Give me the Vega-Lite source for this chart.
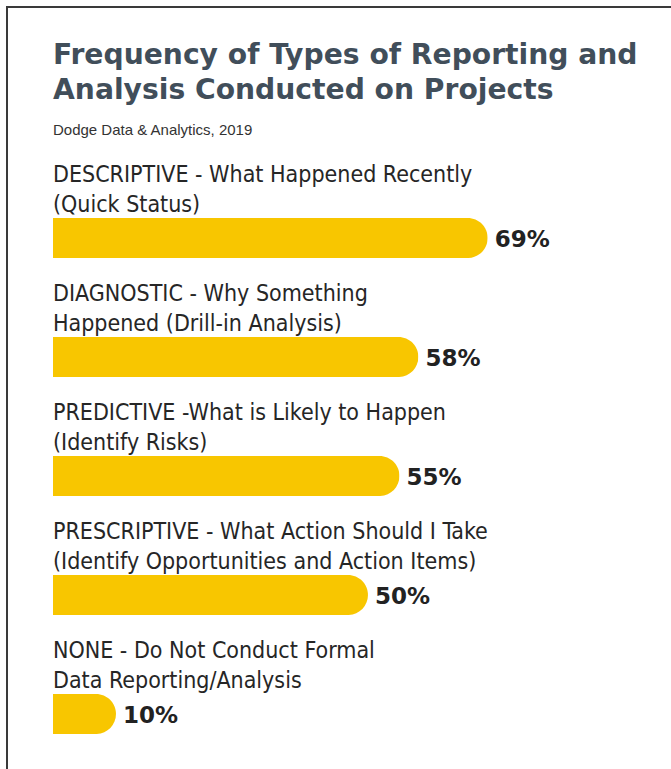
{
  "$schema": "https://vega.github.io/schema/vega-lite/v6.json",
  "autosize": {"type": "none"},
  "padding": {"left": 7, "top": 7, "right": -16, "bottom": -8},
  "width": 680,
  "height": 770,
  "background": "white",
  "title": {
    "text": ["Frequency of Types of Reporting and", "Analysis Conducted on Projects"],
    "subtitle": "Dodge Data & Analytics, 2019",
    "anchor": "start",
    "frame": "group",
    "orient": "top",
    "offset": -132,
    "dx": 46,
    "font": "DejaVu Sans",
    "fontSize": 28.2,
    "fontWeight": "bold",
    "color": "#414e5a",
    "lineHeight": 35,
    "subtitleFont": "Liberation Sans",
    "subtitleFontSize": 15,
    "subtitleColor": "#333333",
    "subtitlePadding": 18
  },
  "data": {
    "values": [
      {"category": "DESCRIPTIVE - What Happened Recently\n(Quick Status)", "pct": 69, "label": "69%"},
      {"category": "DIAGNOSTIC - Why Something\nHappened (Drill-in Analysis)", "pct": 58, "label": "58%"},
      {"category": "PREDICTIVE -What is Likely to Happen\n(Identify Risks)", "pct": 55, "label": "55%"},
      {"category": "PRESCRIPTIVE - What Action Should I Take\n(Identify Opportunities and Action Items)", "pct": 50, "label": "50%"},
      {"category": "NONE - Do Not Conduct Formal\nData Reporting/Analysis", "pct": 10, "label": "10%"}
    ]
  },
  "encoding": {
    "y": {
      "field": "category",
      "type": "nominal",
      "sort": null,
      "axis": null,
      "scale": {"paddingInner": 0.5294, "paddingOuter": 1, "align": 0.853}
    },
    "x": {
      "field": "pct",
      "type": "quantitative",
      "axis": null,
      "scale": {"domain": [-7.3, 100.64], "nice": false, "zero": false}
    }
  },
  "layer": [
    {
      "mark": {"type": "bar", "color": "#F8C600", "cornerRadiusEnd": 20, "height": 40}
    },
    {
      "mark": {
        "type": "text",
        "align": "left",
        "baseline": "alphabetic",
        "dy": -56,
        "font": "DejaVu Sans Condensed",
        "fontSize": 23,
        "lineHeight": 30,
        "lineBreak": "\n",
        "color": "#262626"
      },
      "encoding": {
        "x": {"datum": 0, "type": "quantitative"},
        "text": {"field": "category"}
      }
    },
    {
      "mark": {
        "type": "text",
        "align": "left",
        "baseline": "middle",
        "dx": 7,
        "dy": 2,
        "font": "DejaVu Sans",
        "fontWeight": "bold",
        "fontSize": 23,
        "color": "#222222"
      },
      "encoding": {
        "text": {"field": "label"}
      }
    }
  ],
  "config": {
    "view": {"stroke": "#3a3a3a", "strokeWidth": 2}
  }
}
